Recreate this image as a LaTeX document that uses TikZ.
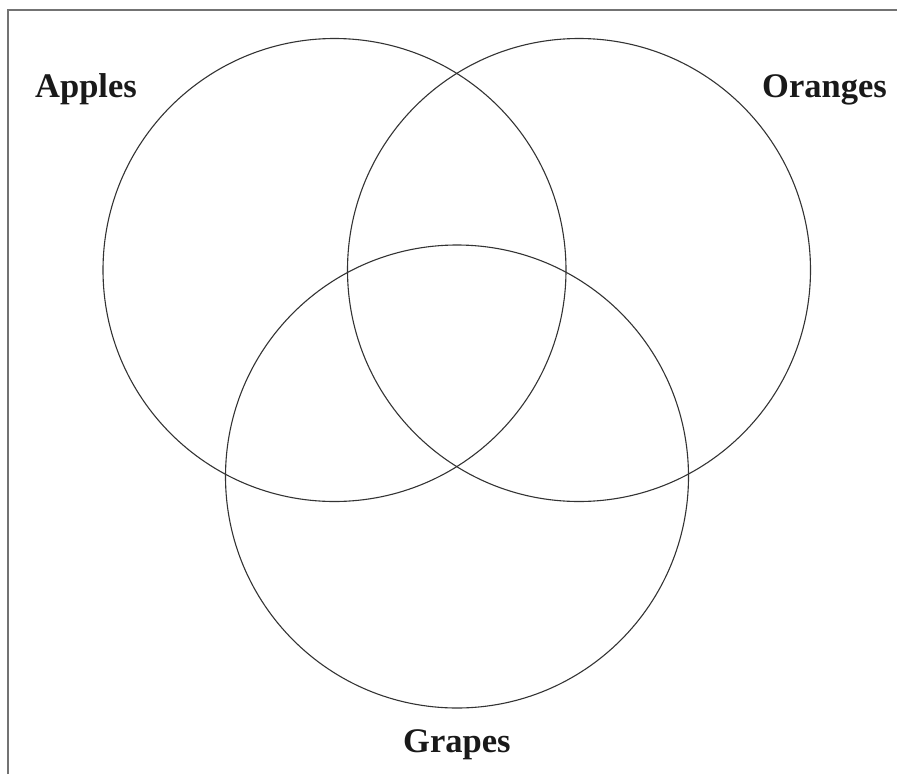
\documentclass[tikz,border=0pt]{standalone}
\usepackage{fontspec}
\setmainfont{Liberation Serif}
\begin{document}
\begin{tikzpicture}[x=1pt,y=-1pt,
  setcircle/.style={draw=black!80, line width=1.1pt},
  setlabel/.style={font=\fontsize{34.5}{40}\selectfont\bfseries, text=black!90, inner sep=0pt, anchor=base west},
  frameline/.style={draw=black!55, line width=1.5pt}]
\useasboundingbox (0,0) rectangle (897,774);
\coordinate (ftop) at (8,10);
\coordinate (fright) at (897,10);
\coordinate (fbottom) at (8,774);
\draw[frameline] (fbottom) -- (ftop) -- (fright);
\node[setcircle, circle, minimum size=463pt, inner sep=0pt] (apples) at (334.5,270) {};
\node[setcircle, circle, minimum size=463pt, inner sep=0pt] (oranges) at (579,270) {};
\node[setcircle, circle, minimum size=463pt, inner sep=0pt] (grapes) at (457,476.5) {};
\node[setlabel] (lapples) at (35,97) {Apples};
\node[setlabel] (loranges) at (762,97) {Oranges};
\node[setlabel] (lgrapes) at (403,752) {Grapes};
\end{tikzpicture}
\end{document}
